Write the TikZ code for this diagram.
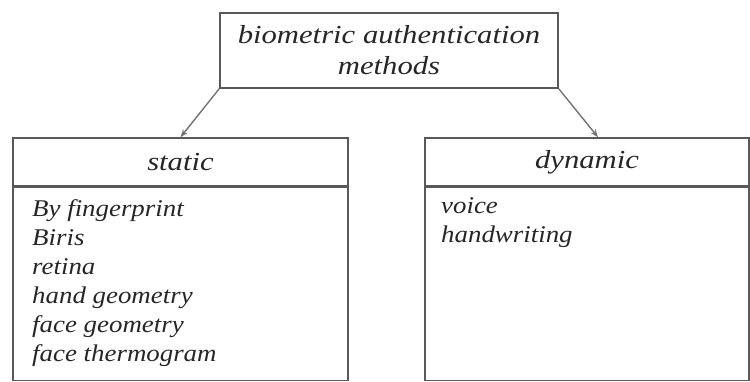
\documentclass[tikz,border=0pt]{standalone}
\usepackage{fontspec}
\setmainfont{Liberation Serif}
\newfontfamily\headfont[FakeStretch=1.18]{Liberation Serif}
\newfontfamily\listfont[FakeStretch=1.12]{Liberation Serif}
\usetikzlibrary{arrows.meta,positioning}

\begin{document}
\begin{tikzpicture}[x=1pt,y=-1pt,
    every node/.style={text=black!85},
    box/.style={draw=black!65, line width=1.6pt, inner sep=0pt,
      font=\headfont\itshape\fontsize{26}{31}\selectfont},
    itemlist/.style={inner sep=0pt, align=left, anchor=north west,
      font=\listfont\itshape\fontsize{24}{29}\selectfont},
    link/.style={draw=black!55, line width=1.4pt, -{Stealth[length=8pt,width=6pt]}}]
    \useasboundingbox (0,0) rectangle (750,381);
    % top
    \node[box, minimum width=338pt, minimum height=75pt, align=center] (methods) at (389,50.5)
        {biometric authentication\\methods};
    % static column
    \node[box, minimum width=335pt, minimum height=48pt] (stathead) at (180.5,162) {static};
    \node[box, minimum width=335pt, minimum height=193pt, below=0pt of stathead] (statbody) {};
    \node[itemlist] (statlist) at (32,199)
        {By fingerprint\\Biris\\retina\\hand geometry\\face geometry\\face thermogram};
    % dynamic column
    \node[box, minimum width=324pt, minimum height=48pt] (dynhead) at (587,162) {dynamic};
    \node[box, minimum width=324pt, minimum height=193pt, below=0pt of dynhead] (dynbody) {};
    \node[itemlist] (dynlist) at (441,197) {voice\\handwriting};
    % arrows
    \draw[link] (methods.south west) -- (stathead.north);
    \draw[link] (methods.south east) -- ([xshift=11pt]dynhead.north);
\end{tikzpicture}
\end{document}
